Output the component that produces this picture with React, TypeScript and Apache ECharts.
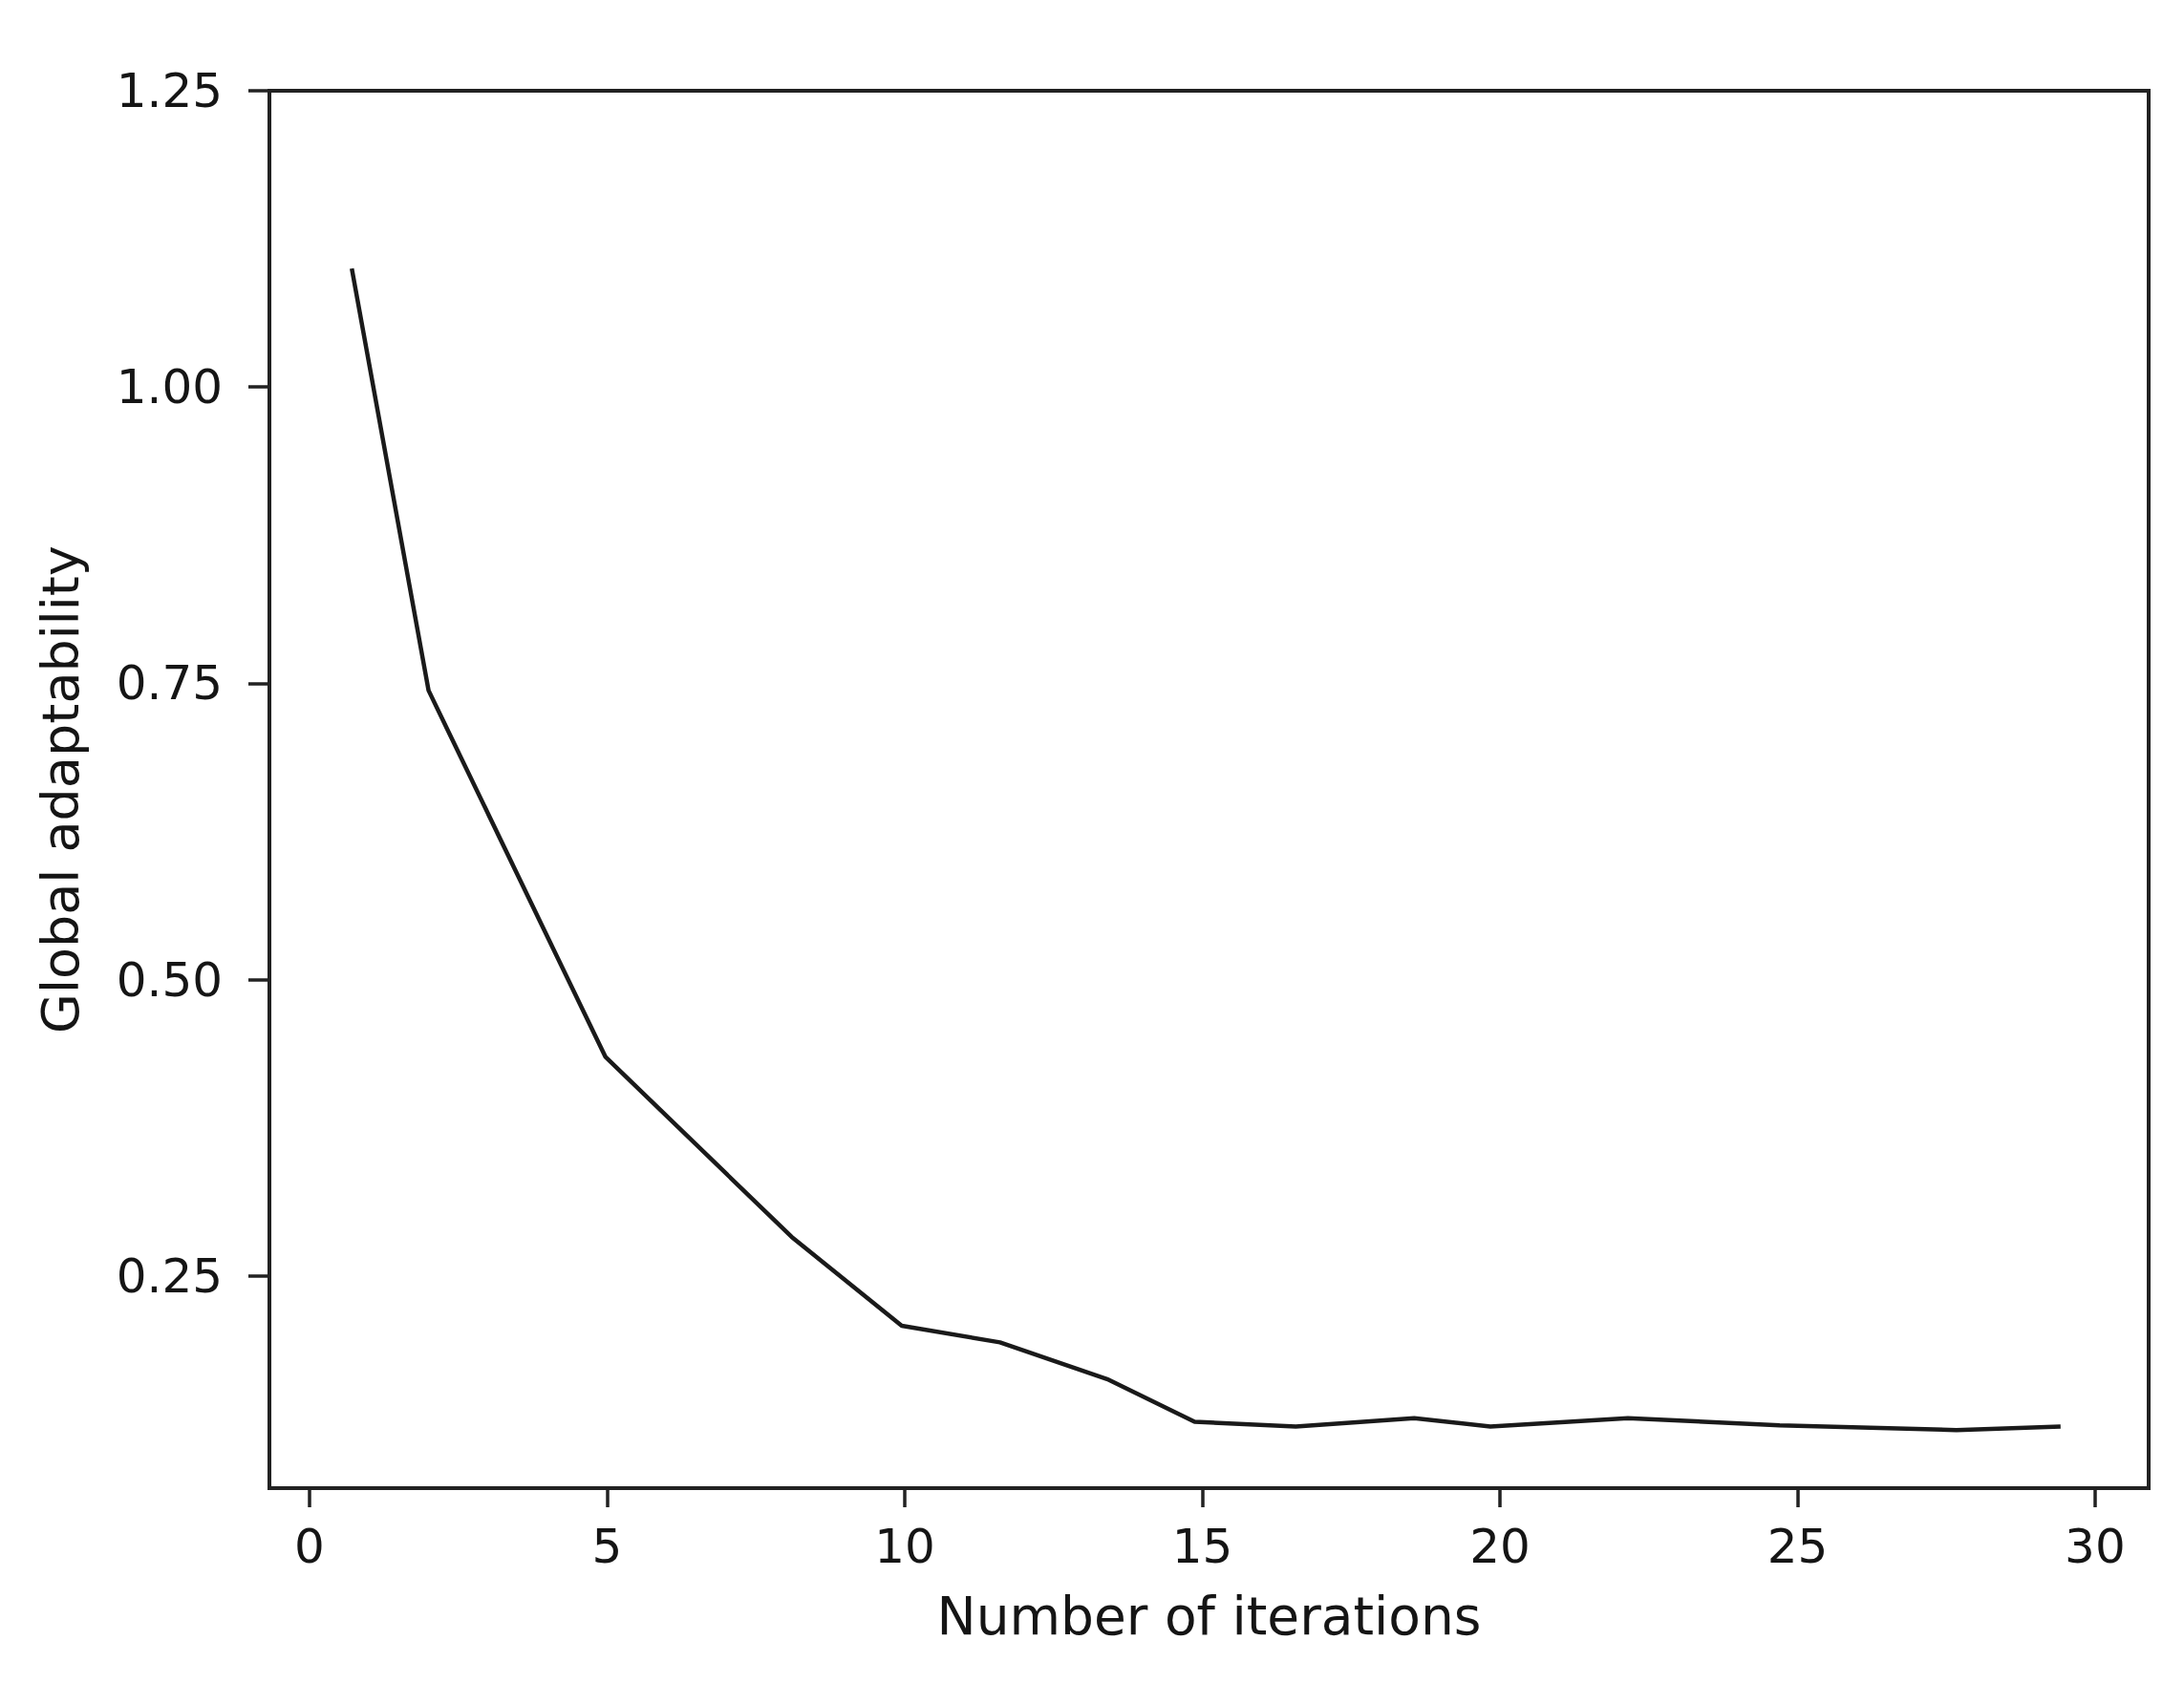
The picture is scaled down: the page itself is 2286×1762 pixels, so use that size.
import React, { useEffect, useRef } from "react";
import * as echarts from "echarts";

const iterations = [0.71, 2.0, 4.97, 8.1, 9.95, 11.6, 13.4, 14.87, 16.57, 18.56, 19.84, 22.15, 24.7, 27.67, 29.42];
const adaptability = [1.1, 0.744, 0.435, 0.283, 0.208, 0.194, 0.163, 0.127, 0.123, 0.13, 0.123, 0.13, 0.124, 0.12, 0.123];
const xTicks = [0, 5, 10, 15, 20, 25, 30];
const yTicks = [0.25, 0.5, 0.75, 1.0, 1.25];

const FONT = "DejaVu Sans";
const INK = "#151515";
const FRAME = "#222222";

export default function App() {
  const ref = useRef<HTMLDivElement>(null);
  useEffect(() => {
    if (!ref.current) return;
    const chart = echarts.init(ref.current, null, { renderer: "svg" });
    chart.setOption({
      animation: false,
      backgroundColor: "#ffffff",
      grid: {
        left: 282,
        top: 95,
        width: 1967,
        height: 1463,
        show: true,
        borderColor: FRAME,
        borderWidth: 4,
        containLabel: false,
      },
      xAxis: {
        type: "value",
        min: -0.674,
        max: 30.9,
        name: "Number of iterations",
        nameLocation: "middle",
        nameGap: 106,
        nameTextStyle: { fontFamily: FONT, fontSize: 55, color: INK, verticalAlign: "top" },
        axisLine: { show: true, onZero: false, lineStyle: { color: FRAME, width: 4 } },
        axisTick: { show: true, length: 20, customValues: xTicks, lineStyle: { color: FRAME, width: 3.5 } },
        axisLabel: {
          customValues: xTicks,
          margin: 36,
          fontFamily: FONT,
          fontSize: 50,
          color: INK,
          formatter: (v: number) => String(v),
        },
        splitLine: { show: false },
      },
      yAxis: {
        type: "value",
        min: 0.071,
        max: 1.25,
        name: "Global adaptability",
        nameLocation: "middle",
        nameGap: 192,
        nameRotate: 90,
        nameTextStyle: { fontFamily: FONT, fontSize: 54, color: INK },
        axisLine: { show: true, onZero: false, lineStyle: { color: FRAME, width: 4 } },
        axisTick: { show: true, length: 22, customValues: yTicks, lineStyle: { color: FRAME, width: 3.5 } },
        axisLabel: {
          customValues: yTicks,
          margin: 49,
          fontFamily: FONT,
          fontSize: 50,
          color: INK,
          formatter: (v: number) => v.toFixed(2),
        },
        splitLine: { show: false },
      },
      series: [
        {
          type: "line",
          data: iterations.map((x, i) => [x, adaptability[i]]),
          showSymbol: false,
          symbol: "none",
          lineStyle: { color: "#1a1a1a", width: 4.5 },
          clip: true,
        },
      ],
    });
    return () => chart.dispose();
  }, []);
  return (
    <div
      ref={ref}
      style={{ position: "fixed", left: 0, top: 0, width: 2286, height: 1762, background: "#fff" }}
    />
  );
}
